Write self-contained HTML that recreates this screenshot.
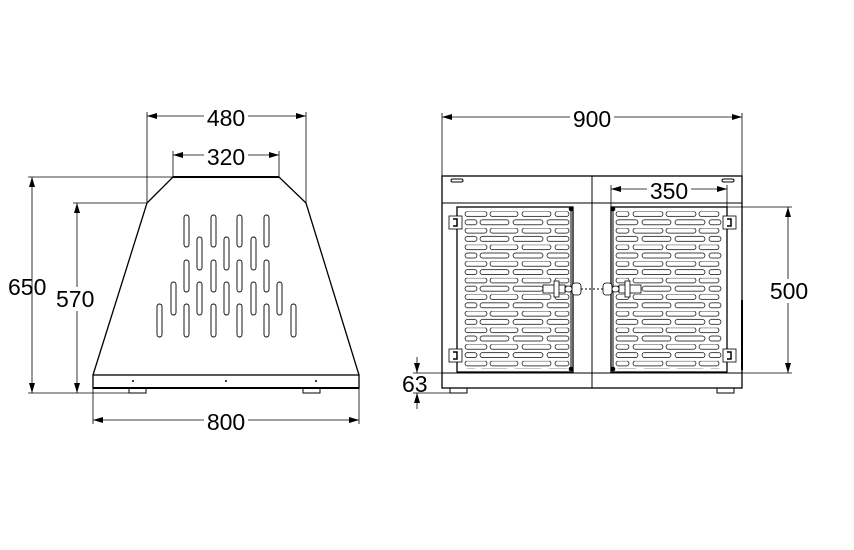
<!DOCTYPE html>
<html><head><meta charset="utf-8"><style>
html,body{margin:0;padding:0;background:#fff}
svg{display:block}
text{font-family:"Liberation Sans",sans-serif;font-size:23px;fill:#000}
</style></head><body>
<svg width="854" height="550" viewBox="0 0 854 550" xmlns="http://www.w3.org/2000/svg">
<defs>
<marker id="a" viewBox="0 0 10 6" refX="10" refY="3" markerWidth="10" markerHeight="6" orient="auto-start-reverse" markerUnits="userSpaceOnUse"><path d="M0,0 L10,3 L0,6 z" fill="#000"/></marker>
<pattern id="pl" patternUnits="userSpaceOnUse" x="0" y="211.5" width="854" height="16.6">
<g fill="none" stroke="#000" stroke-width="0.7">
<rect x="465" y="0" width="22" height="5" rx="2.5"/><rect x="490" y="0" width="28" height="5" rx="2.5"/><rect x="522" y="0" width="29" height="5" rx="2.5"/><rect x="555" y="0" width="14" height="5" rx="2.5"/>
<rect x="465" y="8.3" width="12" height="5" rx="2.5"/><rect x="480" y="8.3" width="29" height="5" rx="2.5"/><rect x="513" y="8.3" width="30" height="5" rx="2.5"/><rect x="547" y="8.3" width="22" height="5" rx="2.5"/>
<rect x="616" y="0" width="13" height="5" rx="2.5"/><rect x="633" y="0" width="30" height="5" rx="2.5"/><rect x="666" y="0" width="30" height="5" rx="2.5"/><rect x="699" y="0" width="20" height="5" rx="2.5"/>
<rect x="616" y="8.3" width="22" height="5" rx="2.5"/><rect x="642" y="8.3" width="29" height="5" rx="2.5"/><rect x="675" y="8.3" width="30" height="5" rx="2.5"/><rect x="709" y="8.3" width="12" height="5" rx="2.5"/>
</g></pattern>
</defs>
<g stroke="#000" fill="none" stroke-width="1">
<path d="M93,375 L147,203 L173,177 L279,177 L306,203 L359,375" stroke-width="1.3"/>
<line x1="173" y1="177" x2="279" y2="177" stroke-width="2"/>
<rect x="93" y="375" width="266" height="13" stroke-width="1.3"/>
<line x1="93" y1="388" x2="359" y2="388" stroke-width="2"/>
<rect x="129" y="388" width="17" height="5"/><rect x="303" y="388" width="17" height="5"/>
<g fill="#000" stroke="none"><circle cx="133" cy="381" r="1"/><circle cx="226" cy="381" r="1"/><circle cx="316" cy="381" r="1"/></g>
<g stroke-width="0.9">
<rect x="157" y="304" width="5" height="33" rx="2.5"/><rect x="171" y="282" width="5" height="33" rx="2.5"/>
<rect x="184" y="215" width="5" height="32" rx="2.5"/><rect x="184" y="260" width="5" height="32" rx="2.5"/><rect x="184" y="304" width="5" height="33" rx="2.5"/>
<rect x="197" y="237" width="5" height="33" rx="2.5"/><rect x="197" y="282" width="5" height="33" rx="2.5"/>
<rect x="211" y="215" width="5" height="32" rx="2.5"/><rect x="211" y="260" width="5" height="32" rx="2.5"/><rect x="211" y="304" width="5" height="33" rx="2.5"/>
<rect x="224" y="237" width="5" height="33" rx="2.5"/><rect x="224" y="282" width="5" height="33" rx="2.5"/>
<rect x="237" y="215" width="5" height="32" rx="2.5"/><rect x="237" y="260" width="5" height="32" rx="2.5"/><rect x="237" y="304" width="5" height="33" rx="2.5"/>
<rect x="251" y="237" width="5" height="33" rx="2.5"/><rect x="251" y="282" width="5" height="33" rx="2.5"/>
<rect x="264" y="215" width="5" height="32" rx="2.5"/><rect x="264" y="260" width="5" height="32" rx="2.5"/><rect x="264" y="304" width="5" height="33" rx="2.5"/>
<rect x="277" y="282" width="5" height="33" rx="2.5"/><rect x="291" y="304" width="5" height="33" rx="2.5"/>
</g>
<g stroke-width="0.8">
<line x1="147" y1="203" x2="147" y2="112"/><line x1="306" y1="203" x2="306" y2="112"/>
<line x1="147" y1="116" x2="306" y2="116" marker-start="url(#a)" marker-end="url(#a)"/>
<line x1="173" y1="177" x2="173" y2="151"/><line x1="279" y1="177" x2="279" y2="151"/>
<line x1="173" y1="155" x2="279" y2="155" marker-start="url(#a)" marker-end="url(#a)"/>
<line x1="28" y1="177" x2="173" y2="177"/><line x1="28" y1="393" x2="129" y2="393"/>
<line x1="32" y1="177" x2="32" y2="393" marker-start="url(#a)" marker-end="url(#a)"/>
<line x1="73" y1="203" x2="147" y2="203"/>
<line x1="77" y1="203" x2="77" y2="393" marker-start="url(#a)" marker-end="url(#a)"/>
<line x1="93" y1="388" x2="93" y2="424"/><line x1="359" y1="388" x2="359" y2="424"/>
<line x1="93" y1="420" x2="359" y2="420" marker-start="url(#a)" marker-end="url(#a)"/>
</g>
<rect x="442" y="176" width="300" height="212" stroke-width="1.3"/>
<line x1="442" y1="203" x2="742" y2="203"/>
<line x1="442" y1="373" x2="742" y2="373"/>
<line x1="592" y1="176" x2="592" y2="388"/>
<rect x="450" y="388" width="17" height="5"/><rect x="717" y="388" width="17" height="5"/>
<rect x="451" y="179" width="12" height="3" rx="1.5"/><rect x="722" y="179" width="12" height="3" rx="1.5"/>
<line x1="742" y1="300" x2="742" y2="370" stroke-width="2"/>
<rect x="457" y="207" width="116" height="165" stroke-width="1.3"/>
<rect x="611" y="207" width="116" height="165" stroke-width="1.3"/>
<line x1="571" y1="208" x2="571" y2="370"/><line x1="613" y1="208" x2="613" y2="370"/>
<rect x="460" y="210" width="110" height="159" fill="url(#pl)" stroke="none"/>
<rect x="614" y="210" width="110" height="159" fill="url(#pl)" stroke="none"/>
<g fill="#000" stroke="none"><circle cx="571" cy="209" r="2.3"/><circle cx="571" cy="369" r="2.3"/><circle cx="613" cy="209" r="2.3"/><circle cx="613" cy="369" r="2.3"/></g>
<g stroke-width="0.8" fill="#fff">
<rect x="449" y="216" width="13" height="13"/><rect x="449" y="349" width="13" height="13"/>
<rect x="723" y="216" width="13" height="13"/><rect x="723" y="349" width="13" height="13"/>
<path d="M453,219 h4 v7 h-4 M453,352 h4 v7 h-4 M727,219 h4 v7 h-4 M727,352 h4 v7 h-4" fill="none" stroke-width="1.5"/>
</g>
<g stroke-width="0.8" fill="#fff">
<rect x="543" y="285" width="22" height="8"/><rect x="619" y="285" width="22" height="8"/>
<rect x="554" y="281" width="5" height="16"/><rect x="625" y="281" width="5" height="16"/>
<rect x="572" y="283" width="9" height="12" rx="3"/><rect x="603" y="283" width="9" height="12" rx="3"/>
<rect x="565" y="286" width="7" height="6" rx="3"/><rect x="612" y="286" width="7" height="6" rx="3"/>
</g>
<line x1="581" y1="289" x2="603" y2="289" stroke-dasharray="2,2"/>
<g stroke-width="0.8">
<line x1="442" y1="176" x2="442" y2="113"/><line x1="742" y1="176" x2="742" y2="113"/>
<line x1="442" y1="117" x2="742" y2="117" marker-start="url(#a)" marker-end="url(#a)"/>
<line x1="611" y1="207" x2="611" y2="185"/><line x1="727" y1="207" x2="727" y2="185"/>
<line x1="611" y1="189" x2="727" y2="189" marker-start="url(#a)" marker-end="url(#a)"/>
<line x1="727" y1="207" x2="792" y2="207"/><line x1="727" y1="373" x2="792" y2="373"/>
<line x1="788" y1="207" x2="788" y2="373" marker-start="url(#a)" marker-end="url(#a)"/>
<line x1="413" y1="373" x2="442" y2="373"/><line x1="413" y1="393" x2="450" y2="393"/>
<line x1="417" y1="357" x2="417" y2="373" marker-end="url(#a)"/>
<line x1="417" y1="409" x2="417" y2="393" marker-end="url(#a)"/>
</g>
</g>
<g>
<rect x="204" y="105" width="44" height="22" fill="#fff"/><text x="226" y="126" text-anchor="middle">480</text>
<rect x="204" y="144" width="44" height="22" fill="#fff"/><text x="226" y="165" text-anchor="middle">320</text>
<text x="8" y="295">650</text>
<rect x="55" y="287" width="42" height="24" fill="#fff"/><text x="56" y="307">570</text>
<rect x="204" y="409" width="44" height="22" fill="#fff"/><text x="226" y="430" text-anchor="middle">800</text>
<rect x="570" y="106" width="44" height="22" fill="#fff"/><text x="592" y="127" text-anchor="middle">900</text>
<rect x="647" y="179" width="44" height="22" fill="#fff"/><text x="669" y="199" text-anchor="middle">350</text>
<rect x="767" y="279" width="44" height="24" fill="#fff"/><text x="789" y="299" text-anchor="middle">500</text>
<text x="402" y="392">63</text>
</g>
</svg>
</body></html>
